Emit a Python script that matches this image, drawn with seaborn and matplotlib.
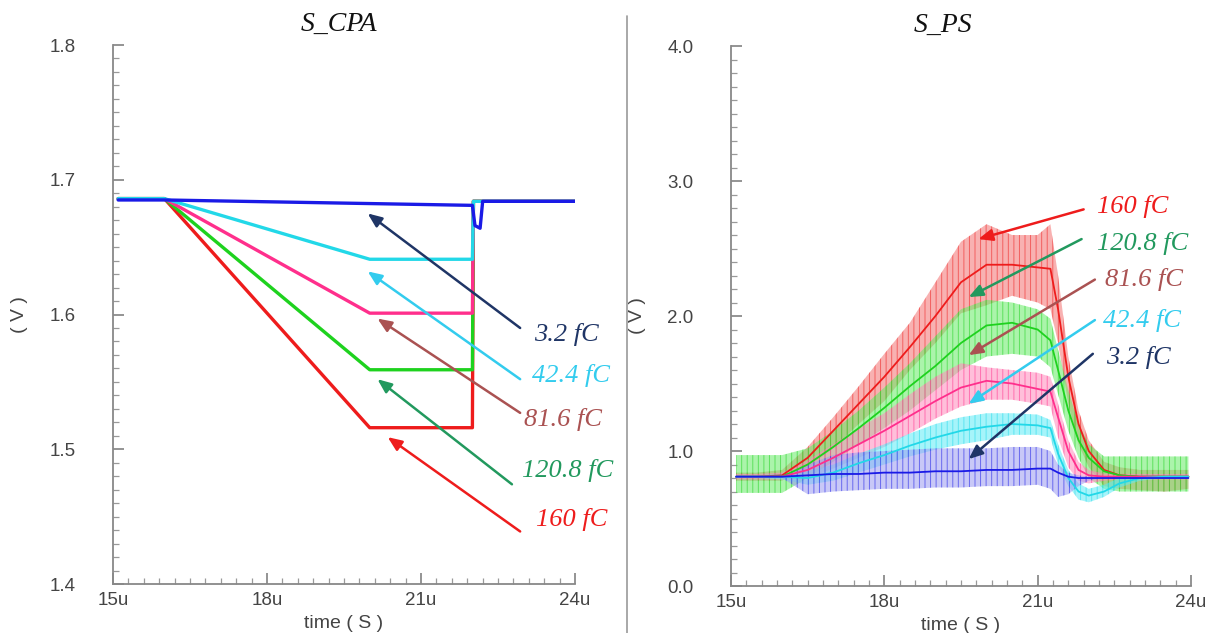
import seaborn as sns
import pandas as pd
import numpy as np
import matplotlib.pyplot as plt
from matplotlib.lines import Line2D
from matplotlib.ticker import MultipleLocator, FuncFormatter

# ---------------- S_CPA (left) : time in us, output in V
charges = ['3.2 fC', '42.4 fC', '81.6 fC', '120.8 fC', '160 fC']

cpa_t_3p2 = [15.1, 16.0, 22.0, 22.05, 22.15, 22.2, 24.0]
cpa_3p2 = [1.685, 1.685, 1.681, 1.666, 1.664, 1.684, 1.684]
cpa_t = [15.1, 16.0, 20.0, 22.0, 22.02, 24.0]
cpa_42p4 = [1.686, 1.686, 1.641, 1.641, 1.684, 1.684]
cpa_81p6 = [1.686, 1.686, 1.601, 1.601, 1.684, 1.684]
cpa_120p8 = [1.686, 1.686, 1.559, 1.559, 1.684, 1.684]
cpa_160 = [1.686, 1.686, 1.516, 1.516, 1.684, 1.684]

# ---------------- S_PS (right)
ps_t = [15.1, 15.5, 16.0, 16.5, 17.0, 17.5, 18.0, 18.5, 19.0, 19.5, 20.0, 20.5,
        21.0, 21.25, 21.4, 21.6, 21.8, 22.0, 22.3, 22.6, 23.0, 23.5, 23.95]
ps_160 = [0.81, 0.81, 0.82, 0.95, 1.15, 1.35, 1.55, 1.77, 2.0, 2.25, 2.38, 2.38,
          2.36, 2.35, 2.05, 1.55, 1.2, 1.0, 0.86, 0.82, 0.81, 0.81, 0.81]
ps_160_hi = [0.84, 0.84, 0.86, 1.03, 1.25, 1.48, 1.72, 1.95, 2.25, 2.55, 2.68, 2.6,
             2.6, 2.68, 2.3, 1.7, 1.3, 1.08, 0.92, 0.88, 0.86, 0.86, 0.86]
ps_160_lo = [0.78, 0.78, 0.78, 0.88, 1.02, 1.2, 1.37, 1.6, 1.8, 2.02, 2.08, 2.15,
             2.1, 2.05, 1.8, 1.35, 1.05, 0.88, 0.74, 0.72, 0.71, 0.7, 0.72]
ps_120p8 = [0.81, 0.81, 0.81, 0.9, 1.03, 1.17, 1.32, 1.48, 1.63, 1.8, 1.93, 1.95,
            1.9, 1.82, 1.6, 1.3, 1.08, 0.95, 0.85, 0.82, 0.81, 0.81, 0.81]
ps_120p8_hi = [0.97, 0.97, 0.97, 1.02, 1.15, 1.3, 1.47, 1.65, 1.85, 2.05, 2.12, 2.1,
               2.05, 1.98, 1.75, 1.45, 1.2, 1.05, 0.96, 0.96, 0.96, 0.96, 0.96]
ps_120p8_lo = [0.69, 0.69, 0.69, 0.8, 0.92, 1.05, 1.17, 1.3, 1.45, 1.6, 1.7, 1.72,
               1.7, 1.62, 1.42, 1.15, 0.95, 0.8, 0.72, 0.7, 0.7, 0.7, 0.7]
ps_81p6 = [0.81, 0.81, 0.81, 0.86, 0.95, 1.05, 1.15, 1.26, 1.37, 1.47, 1.52, 1.5,
           1.46, 1.44, 1.25, 1.0, 0.86, 0.82, 0.81, 0.81, 0.81, 0.81, 0.81]
ps_81p6_hi = [0.83, 0.83, 0.84, 0.93, 1.05, 1.17, 1.28, 1.42, 1.55, 1.65, 1.62, 1.6,
              1.58, 1.55, 1.35, 1.08, 0.92, 0.86, 0.83, 0.83, 0.83, 0.83, 0.83]
ps_81p6_lo = [0.79, 0.79, 0.79, 0.8, 0.87, 0.95, 1.03, 1.13, 1.24, 1.33, 1.38, 1.38,
              1.35, 1.33, 1.1, 0.88, 0.78, 0.76, 0.78, 0.79, 0.79, 0.79, 0.79]
ps_42p4 = [0.81, 0.81, 0.81, 0.8, 0.84, 0.91, 0.97, 1.04, 1.1, 1.15, 1.18, 1.2,
           1.19, 1.17, 0.98, 0.8, 0.7, 0.67, 0.7, 0.76, 0.8, 0.81, 0.81]
ps_42p4_hi = [0.82, 0.82, 0.83, 0.85, 0.9, 0.98, 1.05, 1.13, 1.2, 1.25, 1.28, 1.28,
              1.27, 1.23, 1.05, 0.86, 0.76, 0.72, 0.75, 0.8, 0.82, 0.82, 0.82]
ps_42p4_lo = [0.8, 0.8, 0.79, 0.75, 0.78, 0.84, 0.9, 0.96, 1.01, 1.05, 1.08, 1.12,
              1.12, 1.1, 0.9, 0.74, 0.64, 0.62, 0.66, 0.73, 0.78, 0.8, 0.8]
ps_3p2 = [0.81, 0.81, 0.81, 0.82, 0.83, 0.83, 0.84, 0.84, 0.85, 0.85, 0.86, 0.86,
          0.87, 0.87, 0.84, 0.81, 0.8, 0.8, 0.8, 0.8, 0.8, 0.8, 0.8]
ps_3p2_hi = [0.81, 0.81, 0.82, 0.9, 0.97, 0.99, 1.0, 1.01, 1.02, 1.02, 1.02, 1.03,
             1.03, 1.0, 0.9, 0.84, 0.82, 0.81, 0.81, 0.81, 0.81, 0.81, 0.81]
ps_3p2_lo = [0.81, 0.81, 0.8, 0.68, 0.7, 0.71, 0.72, 0.72, 0.73, 0.73, 0.74, 0.74,
             0.75, 0.72, 0.66, 0.68, 0.74, 0.78, 0.8, 0.8, 0.8, 0.8, 0.8]

# annotation positions in data units: label start, arrow tail, arrow head
cpa_label_x = [23.2, 23.16, 23.0, 22.97, 23.24]
cpa_label_y = [1.585, 1.555, 1.522, 1.484, 1.448]
cpa_tail_x = [22.93, 22.93, 22.93, 22.77, 22.93]
cpa_tail_y = [1.590, 1.552, 1.527, 1.474, 1.439]
cpa_head_x = [19.96, 19.96, 20.15, 20.15, 20.35]
cpa_head_y = [1.675, 1.632, 1.597, 1.552, 1.509]
ps_label_x = [22.33, 22.28, 22.31, 22.16, 22.16]
ps_label_y = [1.69, 1.97, 2.27, 2.54, 2.81]
ps_tail_x = [22.08, 22.12, 22.12, 21.86, 21.90]
ps_tail_y = [1.72, 1.97, 2.27, 2.57, 2.79]
ps_head_x = [19.65, 19.65, 19.65, 19.65, 19.84]
ps_head_y = [0.94, 1.35, 1.71, 2.14, 2.57]

line_colors = ['#1a1ae6', '#22d8e8', '#ff2f8c', '#1ed21e', '#ee1c1c']
band_colors = ['#9c9cf2', '#5eecf6', '#ff8cbc', '#66ec66', '#f37272']
note_colors = ['#1f3566', '#33ccee', '#aa5252', '#22995e', '#ee1c1c']

cpa_df = pd.concat([
    pd.DataFrame({'t': cpa_t_3p2, 'v': cpa_3p2, 'q': charges[0]}),
    pd.DataFrame({'t': cpa_t, 'v': cpa_42p4, 'q': charges[1]}),
    pd.DataFrame({'t': cpa_t, 'v': cpa_81p6, 'q': charges[2]}),
    pd.DataFrame({'t': cpa_t, 'v': cpa_120p8, 'q': charges[3]}),
    pd.DataFrame({'t': cpa_t, 'v': cpa_160, 'q': charges[4]}),
], ignore_index=True)
ps_mid = [ps_3p2, ps_42p4, ps_81p6, ps_120p8, ps_160]
ps_hi = [ps_3p2_hi, ps_42p4_hi, ps_81p6_hi, ps_120p8_hi, ps_160_hi]
ps_lo = [ps_3p2_lo, ps_42p4_lo, ps_81p6_lo, ps_120p8_lo, ps_160_lo]
ps_df = pd.concat([pd.DataFrame({'t': ps_t, 'v': m, 'q': q}) for m, q in zip(ps_mid, charges)],
                  ignore_index=True)

sns.set_style('ticks')
plt.rcParams['font.family'] = ['Liberation Sans', 'DejaVu Sans']
plt.rcParams['hatch.linewidth'] = 0.7
serif_it = dict(family=['Liberation Serif', 'DejaVu Serif'], style='italic')

fig = plt.figure(figsize=(12.22, 6.33), dpi=100)
ax1 = fig.add_axes([0.0925, 0.0774, 0.3781, 0.8515])
ax2 = fig.add_axes([0.5982, 0.0742, 0.3764, 0.8531])

# left: draw in reverse so the 3.2 fC line sits on top
pal = dict(zip(charges, line_colors))
sns.lineplot(data=cpa_df, x='t', y='v', hue='q', hue_order=charges[::-1], palette=pal,
             estimator=None, sort=False, lw=2.4, legend=False, ax=ax1)

# right: noise bands (striped like the scope traces), then the mean traces
for i in [4, 3, 2, 1, 0]:
    ax2.fill_between(ps_t, ps_lo[i], ps_hi[i], facecolor=band_colors[i],
                     edgecolor=line_colors[i], hatch='|||', alpha=0.55, lw=0)
sns.lineplot(data=ps_df, x='t', y='v', hue='q', hue_order=charges[::-1], palette=pal,
             estimator=None, sort=False, lw=1.3, legend=False, ax=ax2)

notes = [(ax1, cpa_label_x, cpa_label_y, cpa_tail_x, cpa_tail_y, cpa_head_x, cpa_head_y),
         (ax2, ps_label_x, ps_label_y, ps_tail_x, ps_tail_y, ps_head_x, ps_head_y)]
for ax, lx, ly, tx_, ty_, hx, hy in notes:
    for i in range(5):
        ax.annotate('', xy=(hx[i], hy[i]), xytext=(tx_[i], ty_[i]), annotation_clip=False,
                    arrowprops=dict(arrowstyle='-|>,head_length=0.6,head_width=0.25',
                                    color=note_colors[i], lw=1.8, shrinkA=0, shrinkB=0,
                                    mutation_scale=14))
        ax.text(lx[i], ly[i], charges[i], color=note_colors[i], fontsize=19,
                va='center', ha='left', clip_on=False, **serif_it)

ax1.set_xlim(15, 24)
ax1.set_ylim(1.4, 1.8)
ax1.yaxis.set_major_locator(MultipleLocator(0.1))
ax1.yaxis.set_minor_locator(MultipleLocator(0.01))
ax2.set_xlim(15, 24)
ax2.set_ylim(0, 4)
ax2.yaxis.set_major_locator(MultipleLocator(1.0))
ax2.yaxis.set_minor_locator(MultipleLocator(0.1))

for ax, title, tpos in [(ax1, 'S_CPA', 0.49), (ax2, 'S_PS', 0.46)]:
    ax.xaxis.set_major_locator(MultipleLocator(3))
    ax.xaxis.set_minor_locator(MultipleLocator(0.3))
    ax.xaxis.set_major_formatter(FuncFormatter(lambda v, p: f'{v:.0f}u'))
    ax.yaxis.set_major_formatter(FuncFormatter(lambda v, p: f'{v:.1f}'))
    ax.tick_params(which='major', direction='in', length=8, width=1.1, color='#777777',
                   labelsize=13.5, labelcolor='#444444')
    ax.tick_params(which='minor', direction='in', length=4, width=0.9, color='#999999')
    ax.tick_params(axis='y', pad=27)
    ax.tick_params(axis='x', pad=6)
    for s in ['top', 'right']:
        ax.spines[s].set_visible(False)
    for s in ['left', 'bottom']:
        ax.spines[s].set_color('#888888')
        ax.spines[s].set_linewidth(1.3)
    ax.set_xlabel('time ( S )', fontsize=14, color='#444444')
    ax.set_ylabel('( V )', fontsize=14, color='#444444')
    ax.xaxis.set_label_coords(0.5, -0.058)
    ax.yaxis.set_label_coords(-0.185, 0.5)
    ax.text(tpos, 1.038, title, transform=ax.transAxes, fontsize=20, ha='center',
            va='center', color='#111111', **serif_it)

fig.add_artist(Line2D([0.513, 0.513], [0.0, 0.975], color='#999999', lw=1.2))

fig.savefig('out.png', dpi=100)
